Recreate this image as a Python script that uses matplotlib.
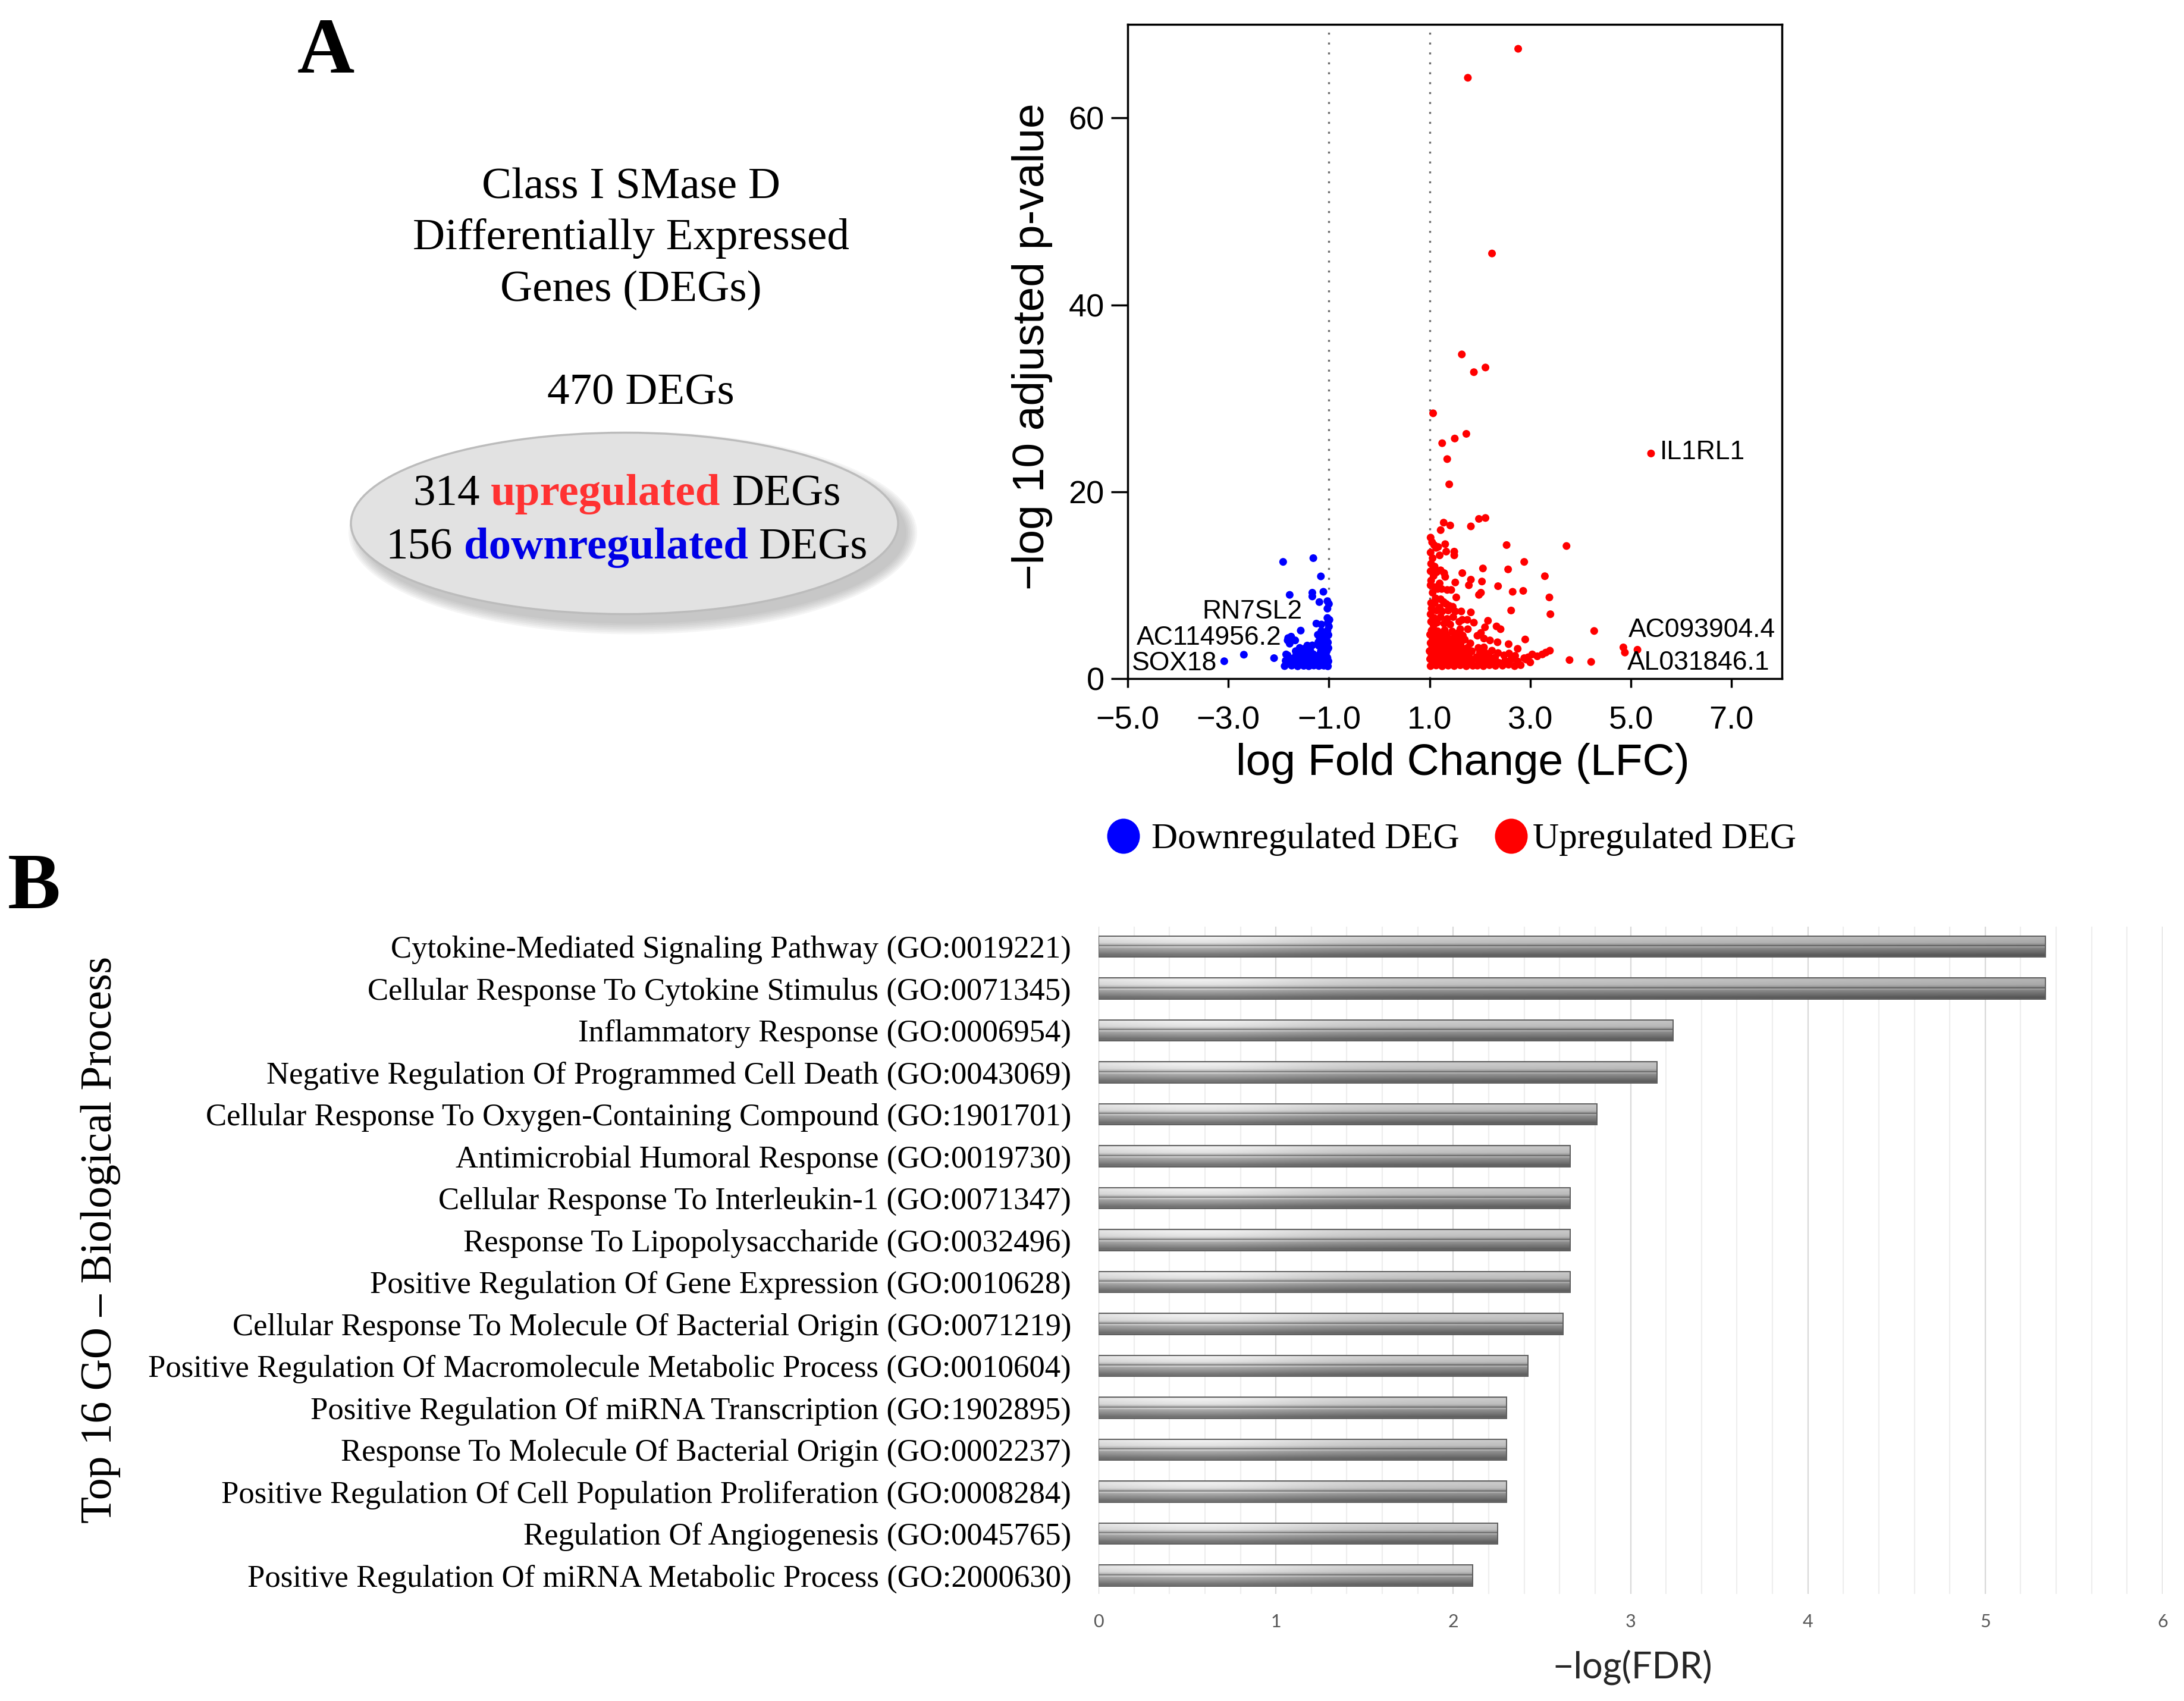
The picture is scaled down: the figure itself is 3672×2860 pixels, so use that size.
import numpy as np
import matplotlib.pyplot as plt
from matplotlib.patches import Ellipse

SERIF = 'Liberation Serif'
SANS = 'Liberation Sans'
CALIBRI = 'Lato'
plt.rcParams['font.family'] = SANS

# ---------------- panel A : DEG summary ----------------
n_total = 470
n_up = 314
n_down = 156

# volcano points: (log fold change, -log10 adjusted p)
up_points = [
    # outliers
    (2.76, 67.4), (1.76, 64.3), (2.24, 45.5), (1.64, 34.7), (1.88, 32.8), (2.11, 33.3),
    (1.07, 28.4), (1.25, 25.2), (1.50, 25.7), (1.73, 26.2), (1.35, 23.5), (1.39, 20.8),
    (5.40, 24.1),
    (1.28, 16.7), (1.41, 16.4), (1.22, 15.9), (1.82, 16.3), (1.98, 17.1), (2.11, 17.2),
    (2.53, 14.3), (3.72, 14.2), (2.88, 12.5), (2.56, 11.7), (2.06, 11.8), (3.29, 10.97),
    (1.65, 11.3), (1.82, 10.6), (1.78, 10.0), (2.04, 10.4), (2.36, 9.9), (2.65, 9.3),
    (2.86, 9.4), (3.38, 8.7), (1.98, 8.97), (2.02, 9.2), (1.51, 10.3), (1.43, 9.5),
    (1.53, 8.7), (2.62, 7.3), (3.40, 6.9), (4.27, 5.11), (4.85, 3.35), (4.88, 2.8),
    (5.13, 3.1), (3.78, 2.0), (4.21, 1.8),
    # column next to the cut-off
    (1.02, 15.1), (1.05, 14.6), (1.09, 14.3), (1.13, 14.0), (1.17, 14.1), (1.02, 13.5),
    (1.06, 12.9), (1.20, 13.2), (1.03, 12.3), (1.10, 12.0), (1.02, 11.5), (1.08, 11.0),
    (1.14, 11.4), (1.22, 11.6), (1.03, 10.5), (1.20, 10.2), (1.02, 10.0), (1.10, 9.8),
    (1.16, 9.6), (1.24, 9.6), (1.06, 9.2), (1.12, 8.6), (1.22, 8.5), (1.03, 8.1),
    (1.10, 8.1), (1.04, 7.5), (1.14, 7.3), (1.20, 7.6), (1.02, 6.9), (1.09, 6.5),
    (1.22, 6.6), (1.03, 6.1), (1.15, 6.0), (1.08, 5.7),
    # middle
    (1.31, 14.4), (1.33, 13.6), (1.49, 13.6), (1.49, 13.2), (1.29, 11.3), (1.31, 10.9),
    (1.35, 9.5), (1.28, 8.2), (1.33, 8.0), (1.39, 7.8), (1.25, 7.2), (1.37, 7.3),
    (1.46, 7.7), (1.51, 7.2), (1.63, 7.2), (1.82, 7.1), (1.65, 6.3), (1.59, 6.1),
    (1.75, 6.3), (1.88, 6.0), (1.61, 5.3), (1.76, 5.3), (1.57, 4.9), (1.41, 5.8),
    (1.29, 5.9), (1.35, 6.4), (1.47, 6.6), (2.16, 6.2), (2.10, 5.5), (2.33, 5.6),
    (2.41, 5.3), (1.95, 4.6), (2.02, 4.9), (2.08, 4.3), (2.20, 4.1), (2.35, 3.9),
    (2.90, 4.2), (2.75, 3.2), (2.57, 3.7),
    # dense bottom block
    (1.02, 1.35), (1.13, 1.42), (1.25, 1.33), (1.37, 1.40), (1.49, 1.36), (1.61, 1.44),
    (1.73, 1.34), (1.86, 1.39), (1.06, 1.75), (1.18, 1.68), (1.31, 1.78), (1.43, 1.70),
    (1.55, 1.80), (1.68, 1.72), (1.80, 1.66), (1.01, 2.10), (1.12, 2.18), (1.24, 2.05),
    (1.36, 2.15), (1.47, 2.08), (1.60, 2.20), (1.72, 2.12), (1.85, 2.02), (1.04, 2.55),
    (1.16, 2.48), (1.29, 2.60), (1.41, 2.52), (1.53, 2.45), (1.66, 2.58), (1.78, 2.50),
    (1.00, 2.95), (1.10, 2.88), (1.22, 3.00), (1.34, 2.92), (1.46, 2.85), (1.58, 2.98),
    (1.71, 2.90), (1.84, 2.94), (1.05, 3.38), (1.17, 3.30), (1.28, 3.42), (1.40, 3.35),
    (1.52, 3.28), (1.63, 3.40), (1.76, 3.33), (1.02, 3.82), (1.12, 3.75), (1.25, 3.88),
    (1.37, 3.80), (1.49, 3.72), (1.62, 3.85), (1.81, 3.78), (1.06, 4.28), (1.18, 4.20),
    (1.30, 4.32), (1.44, 4.22), (1.57, 4.30), (1.70, 4.18), (1.01, 4.72), (1.11, 4.65),
    (1.23, 4.78), (1.35, 4.68), (1.50, 4.75), (1.66, 4.62), (1.04, 5.15), (1.16, 5.08),
    (1.30, 5.20), (1.45, 5.05),
    (1.95, 1.40), (2.07, 1.35), (2.19, 1.45), (2.31, 1.38), (1.98, 1.85), (2.12, 1.75),
    (2.25, 1.90), (2.38, 1.70), (1.93, 2.30), (2.05, 2.20), (2.18, 2.40), (2.30, 2.25),
    (2.00, 2.80), (2.13, 2.70), (2.24, 3.00), (1.97, 3.30), (2.08, 3.35), (2.36, 2.75),
    (2.45, 1.40), (2.57, 1.50), (2.69, 1.35), (2.81, 1.45), (2.50, 1.90), (2.62, 2.05),
    (2.75, 1.85), (2.88, 2.20), (2.48, 2.50), (2.58, 2.70), (2.70, 2.45),
    (2.92, 2.05), (2.96, 2.30), (3.04, 2.60), (3.14, 2.40), (3.24, 2.60), (3.31, 2.80),
    (3.39, 3.00), (3.00, 1.75),
]

down_points = [
    (-1.88, 1.35), (-1.74, 1.40), (-1.62, 1.33), (-1.50, 1.38), (-1.40, 1.34), (-1.30, 1.41),
    (-1.20, 1.36), (-1.10, 1.39), (-1.02, 1.33),
    (-1.83, 1.62), (-1.68, 1.58), (-1.55, 1.65), (-1.45, 1.60), (-1.33, 1.66), (-1.24, 1.57),
    (-1.15, 1.63), (-1.05, 1.60),
    (-1.86, 1.92), (-1.76, 1.88), (-1.64, 1.95), (-1.52, 1.90), (-1.41, 1.86), (-1.28, 1.93),
    (-1.18, 1.89), (-1.08, 1.95), (-1.01, 1.87),
    (-1.80, 2.25), (-1.70, 2.20), (-1.58, 2.28), (-1.47, 2.22), (-1.36, 2.26), (-1.22, 2.21),
    (-1.12, 2.29), (-1.03, 2.24),
    (-1.85, 2.60), (-1.65, 2.55), (-1.53, 2.63), (-1.43, 2.58), (-1.31, 2.62), (-1.19, 2.56),
    (-1.06, 2.61),
    (-1.66, 2.95), (-1.55, 2.98), (-1.45, 2.92), (-1.37, 3.00), (-1.16, 2.94), (-1.04, 2.97),
    (-1.58, 3.30), (-1.47, 3.26), (-1.12, 3.32), (-1.01, 3.28),
    (-1.43, 3.55), (-1.33, 3.57), (-1.20, 3.52), (-1.07, 3.58),
    (-1.21, 3.90), (-1.10, 3.95), (-1.02, 3.88),
    (-1.18, 4.30), (-1.05, 4.35),
    (-1.22, 4.70), (-1.12, 4.75), (-1.01, 4.68),
    (-1.15, 5.10), (-1.03, 5.15),
    (-1.56, 5.15), (-1.75, 4.50), (-1.67, 4.10), (-1.82, 4.10), (-1.78, 3.75), (-1.81, 4.35),
    (-1.25, 5.90), (-1.15, 5.80), (-1.03, 6.50), (-0.99, 6.30), (-1.02, 6.00), (-1.00, 5.58),
    (-1.03, 7.50), (-1.19, 8.20), (-1.03, 8.30), (-1.00, 8.00), (-1.11, 9.30), (-1.33, 9.20),
    (-1.33, 8.80), (-1.78, 8.97), (-1.16, 10.95), (-1.31, 12.9), (-1.91, 12.5),
    (-2.69, 2.57), (-3.08, 1.87), (-2.09, 2.20), (-1.82, 2.50),
]

genes = ['IL1RL1', 'AC093904.4', 'AL031846.1', 'RN7SL2', 'AC114956.2', 'SOX18']
gene_xy = [(5.58, 24.2, 'left'), (4.95, 5.17, 'left'), (4.93, 1.72, 'left'),
           (-1.53, 7.2, 'right'), (-1.94, 4.35, 'right'), (-3.22, 1.63, 'right')]

x_ticks = [-5, -3, -1, 1, 3, 5, 7]
x_ticklabels = ['\u22125.0', '\u22123.0', '\u22121.0', '1.0', '3.0', '5.0', '7.0']
y_ticks = [0, 20, 40, 60]

# ---------------- panel B : GO enrichment ----------------
go_terms = [
    'Cytokine-Mediated Signaling Pathway (GO:0019221)',
    'Cellular Response To Cytokine Stimulus (GO:0071345)',
    'Inflammatory Response (GO:0006954)',
    'Negative Regulation Of Programmed Cell Death (GO:0043069)',
    'Cellular Response To Oxygen-Containing Compound (GO:1901701)',
    'Antimicrobial Humoral Response (GO:0019730)',
    'Cellular Response To Interleukin-1 (GO:0071347)',
    'Response To Lipopolysaccharide (GO:0032496)',
    'Positive Regulation Of Gene Expression (GO:0010628)',
    'Cellular Response To Molecule Of Bacterial Origin (GO:0071219)',
    'Positive Regulation Of Macromolecule Metabolic Process (GO:0010604)',
    'Positive Regulation Of miRNA Transcription (GO:1902895)',
    'Response To Molecule Of Bacterial Origin (GO:0002237)',
    'Positive Regulation Of Cell Population Proliferation (GO:0008284)',
    'Regulation Of Angiogenesis (GO:0045765)',
    'Positive Regulation Of miRNA Metabolic Process (GO:2000630)',
]
go_logfdr = [5.34, 5.34, 3.24, 3.15, 2.81, 2.66, 2.66, 2.66, 2.66, 2.62,
             2.42, 2.30, 2.30, 2.30, 2.25, 2.11]

fig = plt.figure(figsize=(36.72, 28.60), dpi=100)

# overlay in pixel units for the free text
ov = fig.add_axes([0, 0, 1, 1])
ov.set_xlim(0, 3672)
ov.set_ylim(2860, 0)
ov.axis('off')
renderer = fig.canvas.get_renderer()

ov.text(548, 122, 'A', fontsize=96, fontweight='bold', family=SERIF, ha='center', va='baseline')
ov.text(57, 1527, 'B', fontsize=96, fontweight='bold', family=SERIF, ha='center', va='baseline')

for s, yb in zip(['Class I SMase D', 'Differentially Expressed', 'Genes (DEGs)'], [333, 419, 506]):
    ov.text(1061, yb, s, fontsize=54, family=SERIF, ha='center', va='baseline')
ov.text(1077, 679, f'{n_total} DEGs', fontsize=54, family=SERIF, ha='center', va='baseline')

# ellipse with soft shadow
ecx, ecy, ew, eh = 1050, 880, 920, 305
for k in range(7):
    ov.add_patch(Ellipse((ecx + 14, ecy + 16), ew + 6 * k, eh + 6 * k,
                         facecolor='#7a7a7a', edgecolor='none', alpha=0.07))
ov.add_patch(Ellipse((ecx, ecy), ew, eh, facecolor='#e2e2e2', edgecolor='#bcbcbc', lw=2.5))


def text_w(s, **kw):
    t = ov.text(0, 0, s, **kw)
    w = t.get_window_extent(renderer).width
    t.remove()
    return w


def colored_line(parts, xc, yb, size):
    kw = dict(fontsize=size, family=SERIF)
    space = text_w('x x', **kw) - text_w('xx', **kw)
    widths = [text_w(s, fontweight=w, **kw) for s, c, w in parts]
    total = sum(widths) + space * (len(parts) - 1)
    x = xc - total / 2
    for (s, c, w), wd in zip(parts, widths):
        ov.text(x, yb, s, color=c, fontweight=w, ha='left', va='baseline', **kw)
        x += wd + space


colored_line([(str(n_up), 'black', 'normal'), ('upregulated', '#ff3232', 'bold'),
              ('DEGs', 'black', 'normal')], 1054, 849, 54)
colored_line([(str(n_down), 'black', 'normal'), ('downregulated', '#0000e6', 'bold'),
              ('DEGs', 'black', 'normal')], 1054, 939, 54)

# legend under the volcano plot
ov.add_patch(Ellipse((1889, 1406), 55, 59, facecolor='#0000ff', edgecolor='none'))
ov.text(1936, 1426, 'Downregulated DEG', fontsize=44, family=SERIF, va='baseline')
ov.add_patch(Ellipse((2541, 1406), 55, 59, facecolor='#ff0000', edgecolor='none'))
ov.text(2577, 1426, 'Upregulated DEG', fontsize=44, family=SERIF, va='baseline')

# ---------------- volcano ----------------
ax = fig.add_axes([0.5163, 0.6010, 0.2996, 0.3846])
up_lfc, up_logp = zip(*up_points)
dn_lfc, dn_logp = zip(*down_points)
ax.axvline(-1, color='#6a6a6a', ls=(0, (1, 4)), lw=2.4, zorder=1)
ax.axvline(1, color='#6a6a6a', ls=(0, (1, 4)), lw=2.4, zorder=1)
ax.scatter(dn_lfc, dn_logp, s=88, c='#0000ff', edgecolors='none', zorder=3)
ax.scatter(up_lfc, up_logp, s=88, c='#ff0000', edgecolors='none', zorder=3)
for g, (gx, gy, ha) in zip(genes, gene_xy):
    ax.text(gx, gy, g, fontsize=32, ha=ha, va='center', zorder=4)
ax.set_xlim(-5, 8)
ax.set_ylim(0, 70)
ax.set_xticks(x_ticks)
ax.set_xticklabels(x_ticklabels)
ax.set_yticks(y_ticks)
ax.tick_params(axis='x', length=11, width=2.5, pad=22, labelsize=39)
ax.tick_params(axis='y', length=20, width=2.5, pad=8, labelsize=39)
for sp in ax.spines.values():
    sp.set_linewidth(2.5)
ax.set_xlabel('log Fold Change (LFC)', fontsize=54, va='center')
ax.xaxis.set_label_coords(0.512, -0.129)
ax.set_ylabel('\u2212log 10 adjusted p-value', fontsize=54, va='center')
ax.yaxis.set_label_coords(-0.146, 0.508)

# ---------------- GO bar chart ----------------
axb = fig.add_axes([0.503, 0.0629, 0.4872, 0.3923])
ypos = np.arange(len(go_terms))
bars = axb.barh(ypos, go_logfdr, height=0.5, color='#8c8c8c', edgecolor='none', zorder=2)

# metallic shading used inside every bar
prof_pos = [0.0, 0.07, 0.33, 0.43, 0.47, 0.52, 0.58, 0.78, 0.93, 1.0]
prof_val = [0.72, 0.86, 0.80, 0.66, 0.36, 0.80, 0.62, 0.50, 0.40, 0.46]
col = np.interp(np.linspace(0, 1, 80), prof_pos, prof_val)
u = np.linspace(0, 6, 600)
row = 1.0 - 0.20 * (u / 6) + 0.12 * np.exp(-((u - 0.6) / 0.6) ** 2)
shade = np.clip(np.outer(col, row), 0, 1)
for b in bars:
    y0, h = b.get_y(), b.get_height()
    im = axb.imshow(shade, cmap='gray', vmin=0, vmax=1, extent=(0, 6, y0 + h, y0),
                    aspect='auto', interpolation='bilinear', zorder=3)
    im.set_clip_path(b)
axb.barh(ypos, go_logfdr, height=0.5, fill=False, edgecolor='#5e5e5e', lw=1.4, zorder=4)

axb.set_xlim(0, 6)
axb.set_ylim(15.44, -0.475)
axb.set_xticks(range(7))
axb.set_xticks(np.arange(0, 6.01, 0.2), minor=True)
axb.set_axisbelow(True)
axb.grid(axis='x', which='major', color='#d9d9d9', lw=1.6)
axb.grid(axis='x', which='minor', color='#eeeeee', lw=1.6)
for sp in axb.spines.values():
    sp.set_visible(False)
axb.tick_params(axis='x', which='both', length=0, labelsize=22, labelcolor='#595959', pad=24)
for t in axb.get_xticklabels():
    t.set_family(CALIBRI)
axb.set_yticks(ypos)
axb.set_yticklabels(go_terms, family=SERIF)
axb.tick_params(axis='y', length=0, pad=33, labelsize=38)
axb.set_xlabel('\u2212log(FDR)', fontsize=44, family=CALIBRI, color='#262626', va='center')
axb.xaxis.set_label_coords(0.502, -0.110)
axb.set_ylabel('Top 16 GO \u2013 Biological Process', fontsize=53, family=SERIF, va='center')
axb.yaxis.set_label_coords(-0.938, 0.531)

fig.savefig('out.png', dpi=100, facecolor='white')
